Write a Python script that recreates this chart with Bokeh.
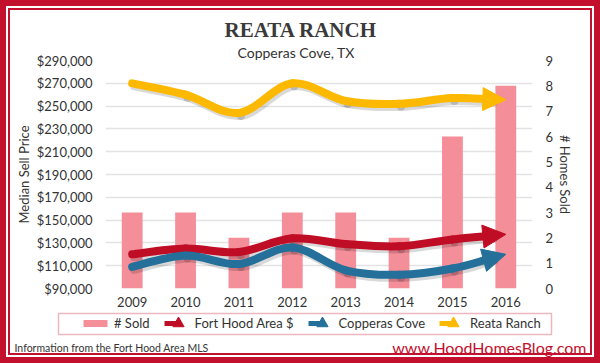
import math
from bokeh.plotting import figure
from bokeh.layouts import column
from bokeh.models import (Range1d, LinearAxis, FixedTicker, NumeralTickFormatter, Label, Title,
                          Legend, LegendItem, Arrow, NormalHead, BoxAnnotation)
from bokeh.embed import file_html
from bokeh.resources import INLINE

# ---------------- data ----------------
years = [2009, 2010, 2011, 2012, 2013, 2014, 2015, 2016]
homes_sold = [3, 3, 2, 3, 3, 2, 6, 8]
fort_hood_area = [120000, 125000, 122000, 134000, 129000, 127000, 133000, 137500]
copperas_cove = [109000, 119000, 111500, 126000, 106000, 102000, 107500, 120000]
reata_ranch = [270000, 260000, 244000, 270000, 254500, 252000, 257000, 255500]
price_ticks = [90000, 110000, 130000, 150000, 170000, 190000, 210000, 230000, 250000, 270000, 290000]
count_ticks = [0, 1, 2, 3, 4, 5, 6, 7, 8, 9]
series_names = ["Fort Hood Area $", "Copperas Cove", "Reata Ranch"]

# ---------------- style ----------------
RED = "#c00d26"
BLUE = "#24709a"
GOLD = "#fdb900"
PINK = "#f48e99"
BORDER_RED = "#c3102d"
TXT = "#333333"
FONT = "Lato"

W = 600
H1, H2 = 311, 52
ML, MR, MT, MB = 105, 68, 60, 23
FW, FH = W - ML - MR, H1 - MT - MB
X0, X1 = years[0] - 0.5, years[-1] + 0.5
Y0, Y1 = price_ticks[0], price_ticks[-1]
SX = FW / (X1 - X0)
SY = FH / (Y1 - Y0)

# ================= main chart =================
p = figure(width=W, height=H1, output_backend="svg", toolbar_location=None,
           x_range=Range1d(X0, X1), y_range=Range1d(Y0, Y1),
           min_border_left=ML, min_border_right=MR, min_border_top=MT, min_border_bottom=MB)
p.outline_line_color = None
p.background_fill_color = "white"
p.border_fill_color = None
p.xgrid.grid_line_color = None
p.ygrid.grid_line_color = "#e3e3e3"
p.ygrid.grid_line_width = 1.5
p.ygrid.ticker = FixedTicker(ticks=price_ticks)

# titles: p.title outermost, subtitle nearest the frame
p.title.text = "REATA RANCH"
p.title.align = "left"
p.title.offset = 119
p.title.standoff = 0
p.title.text_font = "Liberation Serif"
p.title.text_font_size = "21px"
p.title.text_font_style = "bold"
p.title.text_color = "#3a3a3a"
p.add_layout(Title(text="Copperas Cove, TX", align="left", offset=132, standoff=0,
                   text_font=FONT, text_font_style="normal",
                   text_font_size="14px", text_color=TXT), "above")

# left axis
ya = p.yaxis[0]
ya.ticker = FixedTicker(ticks=price_ticks)
ya.formatter = NumeralTickFormatter(format="$0,0")
ya.axis_label = "Median Sell Price"
ya.axis_line_color = None
ya.major_tick_line_color = None
ya.minor_tick_line_color = None
ya.major_tick_out = 0
ya.major_tick_in = 0
ya.major_label_text_font = FONT
ya.major_label_text_font_size = "13px"
ya.major_label_text_color = TXT
ya.major_label_standoff = 13
ya.axis_label_text_font = FONT
ya.axis_label_text_font_size = "13px"
ya.axis_label_text_font_style = "normal"
ya.axis_label_text_color = TXT
ya.axis_label_standoff = 2

# right axis
p.extra_y_ranges = {"count": Range1d(count_ticks[0], count_ticks[-1])}
ra = LinearAxis(y_range_name="count", ticker=FixedTicker(ticks=count_ticks), axis_label="# Homes Sold")
ra.axis_line_color = None
ra.major_tick_line_color = None
ra.minor_tick_line_color = None
ra.major_tick_out = 0
ra.major_tick_in = 0
ra.major_label_text_font = FONT
ra.major_label_text_font_size = "13px"
ra.major_label_text_color = TXT
ra.major_label_standoff = 13
ra.axis_label_text_font = FONT
ra.axis_label_text_font_size = "13px"
ra.axis_label_text_font_style = "normal"
ra.axis_label_text_color = TXT
ra.axis_label_standoff = 1
p.add_layout(ra, "right")

# x axis
xa = p.xaxis[0]
xa.ticker = FixedTicker(ticks=years)
xa.axis_line_color = None
xa.major_tick_line_color = None
xa.minor_tick_line_color = None
xa.major_tick_out = 0
xa.major_tick_in = 0
xa.major_label_text_font = FONT
xa.major_label_text_font_size = "13px"
xa.major_label_text_color = TXT
xa.major_label_standoff = 8

# bars
p.vbar(x=years, top=homes_sold, width=0.39, y_range_name="count",
       fill_color=PINK, line_color=None)


def smooth(xs, ys, cut):
    px = [x * SX for x in xs]
    py = [y * SY for y in ys]
    n = len(px)
    dx, dy = px[-1] - px[-2], py[-1] - py[-2]
    L = math.hypot(dx, dy)
    ux, uy = dx / L, dy / L
    ex, ey = px[-1] - cut * ux, py[-1] - cut * uy
    seg = {k: [] for k in ["x0", "y0", "x1", "y1", "cx0", "cy0", "cx1", "cy1"]}
    for i in range(n - 1):
        a = max(i - 1, 0)
        d = min(i + 2, n - 1)
        c0x = px[i] + (px[i + 1] - px[a]) / 6
        c0y = py[i] + (py[i + 1] - py[a]) / 6
        if i == n - 2:
            x1, y1 = ex, ey
            l = math.hypot(ex - px[i], ey - py[i]) / 3
            c1x, c1y = ex - ux * l, ey - uy * l
        else:
            x1, y1 = px[i + 1], py[i + 1]
            c1x = px[i + 1] - (px[d] - px[i]) / 6
            c1y = py[i + 1] - (py[d] - py[i]) / 6
        seg["x0"].append(px[i] / SX); seg["y0"].append(py[i] / SY)
        seg["x1"].append(x1 / SX); seg["y1"].append(y1 / SY)
        seg["cx0"].append(c0x / SX); seg["cy0"].append(c0y / SY)
        seg["cx1"].append(c1x / SX); seg["cy1"].append(c1y / SY)
    return seg, (ex / SX, ey / SY)


def shifted(seg, ddx, ddy):
    out = {}
    for k, v in seg.items():
        if k.startswith("x") or k.startswith("cx"):
            out[k] = [t + ddx / SX for t in v]
        else:
            out[k] = [t - ddy / SY for t in v]
    return out


series = [(fort_hood_area, RED), (copperas_cove, BLUE), (reata_ranch, GOLD)]
for ys, col in series:
    seg, (ex, ey) = smooth(years, ys, 14)
    sh = shifted(seg, 2, 3)
    p.bezier(line_color="black", line_alpha=0.15, line_width=8, line_cap="round", **sh)
    p.bezier(line_color=col, line_width=8, line_cap="round", **seg)
    p.add_layout(Arrow(end=NormalHead(size=23, fill_color=col, line_color=col, line_width=1),
                       x_start=ex, y_start=ey, x_end=years[-1], y_end=ys[-1],
                       line_alpha=0, line_width=1))

# ================= legend + footer strip =================
# this strip's ranges are in pixels (y measured downward)
p2 = figure(width=W, height=H2, output_backend="svg", toolbar_location=None, title=None,
            x_range=Range1d(0, W), y_range=Range1d(H2, 0),
            x_axis_type=None, y_axis_type=None, min_border=0)
p2.outline_line_color = None
p2.background_fill_color = None
p2.border_fill_color = None
p2.grid.visible = False
for fig in (p, p2):
    try:
        fig.frame_align = False
    except Exception:
        pass

nan = float("nan")
sold_r = p2.line(x=[nan], y=[nan], line_color=PINK, line_width=7, line_dash="24 100")
items = [LegendItem(label="# Sold", renderers=[sold_r])]
for (ys, col), name in zip(series, series_names):
    lr = p2.line(x=[nan], y=[nan], line_color=col, line_width=5, line_dash="13 100")
    tr = p2.scatter(x=[nan], y=[nan], marker="triangle", angle=-math.pi / 2,
                    fill_color=col, line_color=col)
    items.append(LegendItem(label=name, renderers=[lr, tr]))
leg = Legend(items=items, orientation="horizontal", location=(83, 26),
             spacing=14, padding=0, margin=0, glyph_width=28, glyph_height=28,
             label_height=14, label_standoff=3,
             label_text_font=FONT, label_text_font_size="13px", label_text_color=TXT,
             border_line_color=None, background_fill_alpha=0)
p2.add_layout(leg, "center")
p2.add_layout(BoxAnnotation(left=58, right=551, top=2, bottom=23, fill_alpha=0,
                            line_color=BORDER_RED, line_width=1.5))
p2.add_layout(Label(x=14, y=36, text="Information from the Fort Hood Area MLS",
                    text_align="left", text_baseline="alphabetic",
                    text_font=FONT, text_font_size="10.5px", text_color=TXT))
p2.add_layout(Label(x=586, y=36, text="www.HoodHomesBlog.com",
                    text_align="right", text_baseline="alphabetic",
                    text_font=FONT, text_font_size="16px", text_color=BORDER_RED))

layout = column(p, p2, spacing=0,
                styles={"background-color": "#ffffff",
                        "box-shadow": "inset 0 0 0 6px " + BORDER_RED + ", inset 0 0 0 8px #ffffff, "
                                      "inset 0 0 0 10px " + BORDER_RED})

open("out.html", "w").write(file_html(layout, INLINE))
